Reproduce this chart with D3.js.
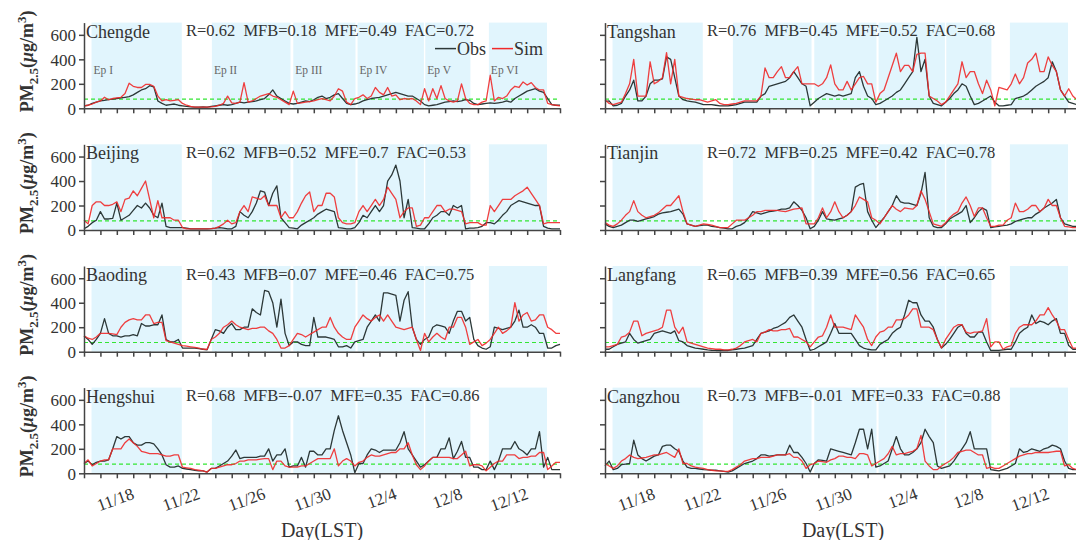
<!DOCTYPE html>
<html>
<head>
<meta charset="utf-8">
<script src="https://cdn.jsdelivr.net/npm/d3@7"></script>
<style>
  body { margin: 0; background: #fff; }
  svg text { font-family: "Liberation Serif", "Times New Roman", serif; }
</style>
</head>
<body>
<svg id="chart" width="1076" height="540"></svg>
<script>
// 6-hourly PM2.5 (ug/m3) starting 2018-11-15 00:00 LST
const stations = ["Chengde", "Tangshan", "Beijing", "Tianjin", "Baoding", "Langfang", "Hengshui", "Cangzhou"];
const statR   = ["0.62", "0.76", "0.62", "0.72", "0.43", "0.65", "0.68", "0.73"];
const statMFB = ["0.18", "0.45", "0.52", "0.25", "0.07", "0.39", "-0.07", "-0.01"];
const statMFE = ["0.49", "0.52", "0.7", "0.42", "0.46", "0.56", "0.35", "0.33"];
const statFAC = ["0.72", "0.68", "0.53", "0.78", "0.75", "0.65", "0.86", "0.88"];

const chengdeObs = [20,25,40,50, 60,65,70,75, 80,85,90,95, 110,130,150,160, 185,175,60,40, 25,30,35,25, 20,15,12,10, 10,12,10,15, 20,25,30,25, 30,40,50,45, 50,55,60,70, 80,110,150,100, 80,60,40,35, 40,50,60,55, 70,90,100,80, 90,110,120,80, 40,30,35,45, 60,70,80,85, 90,100,110,120, 130,120,110,100, 100,80,60,30, 20,25,30,40, 50,55,60,55, 60,70,65,40, 30,35,40,45, 40,45,50,60, 50,80,100,120, 140,150,160,140, 130,80,30,25, 25];
const chengdeSim = [20,25,35,50, 60,90,70,80, 85,90,120,205, 180,170,170,195, 195,180,100,60, 70,60,65,70, 40,25,15,10, 10,10,10,12, 15,25,40,100, 45,40,50,210, 50,60,80,100, 110,120,100,90, 70,50,30,140, 40,45,50,55, 60,70,80,70, 60,100,160,140, 50,30,80,90, 110,80,100,170, 130,110,170,100, 110,70,80,75, 80,60,30,160, 60,160,80,185, 80,60,50,60, 200,80,40,30, 30,50,60,270, 60,90,80,100, 150,180,170,215, 190,210,170,150, 150,40,30,25, 20];
const tangshanObs = [55,60,20,25, 40,100,150,230, 60,60,100,200, 230,230,240,420, 400,250,100,70, 60,55,50,40, 30,30,30,25, 20,20,20,25, 30,40,50,50, 50,50,100,120, 180,190,200,210, 220,250,300,250, 200,180,20,50, 80,100,120,110, 100,110,100,110, 120,250,300,180, 100,80,30,40, 60,80,100,130, 150,200,250,300, 580,300,400,100, 40,30,20,50, 80,120,150,200, 180,100,30,40, 60,80,100,50, 20,20,25,30, 80,90,100,120, 150,180,200,220, 250,380,300,150, 100,50,40,30, 30];
const tangshanSim = [70,40,30,40, 50,120,200,400, 100,100,100,380, 200,220,250,455, 200,400,100,90, 80,75,70,70, 60,50,60,70, 40,30,30,35, 40,50,60,60, 60,60,100,330, 250,250,300,340, 250,250,300,340, 200,200,200,200, 180,200,250,355, 200,150,150,220, 150,200,250,260, 200,200,50,120, 150,250,350,450, 300,350,350,300, 440,450,450,100, 80,60,30,50, 100,150,200,380, 250,300,300,200, 120,230,150,20, 170,160,150,200, 280,200,250,370, 400,450,300,300, 420,350,300,150, 100,160,100,70, 60];
const beijingObs = [10,30,60,80, 150,90,90,95, 220,80,100,120, 160,200,180,220, 180,120,100,220, 30,20,20,20, 20,15,10,10, 10,10,10,12, 15,20,15,10, 10,30,150,120, 100,150,220,320, 310,200,300,360, 100,60,20,15, 10,40,60,80, 100,130,150,170, 160,150,20,15, 10,10,20,60, 120,100,150,200, 150,200,400,450, 530,400,100,250, 20,15,10,10, 50,100,120,150, 150,120,200,180, 200,10,15,15, 20,30,60,60, 50,80,120,150, 200,220,240,230, 220,210,200,200, 30,15,10,10, 10];
const beijingSim = [80,50,200,230, 230,200,200,210, 230,150,250,260, 320,280,340,400, 250,100,240,100, 100,100,80,80, 20,10,10,10, 10,10,10,12, 15,30,50,80, 50,60,150,200, 150,270,260,250, 280,200,200,200, 100,150,100,100, 150,220,280,310, 150,200,200,300, 300,270,100,60, 50,50,60,150, 200,150,200,250, 200,250,350,300, 250,100,150,180, 180,30,40,100, 100,150,200,200, 150,170,170,160, 150,50,60,60, 60,40,40,200, 150,200,250,250, 250,280,300,320, 350,300,250,200, 50,60,60,60, 60];
const tianjinObs = [50,30,20,30, 40,60,80,80, 70,80,90,100, 110,130,140,145, 150,160,170,130, 50,40,30,35, 40,40,30,25, 20,15,10,10, 30,40,60,100, 150,140,130,140, 150,155,160,170, 170,180,230,200, 160,100,10,30, 80,150,90,85, 80,90,100,120, 150,350,370,380, 150,80,20,60, 100,150,200,280, 230,220,220,210, 200,300,470,100, 30,20,20,50, 90,110,130,150, 200,60,100,150, 180,160,20,25, 30,35,40,50, 70,80,90,100, 100,130,150,180, 200,220,250,100, 50,40,30,30, 30];
const tianjinSim = [60,40,30,50, 80,120,150,240, 150,120,100,110, 120,140,170,200, 200,240,280,150, 50,40,30,40, 50,45,40,30, 20,20,20,50, 80,80,80,100, 120,150,150,160, 160,160,160,155, 150,160,170,175, 180,50,50,50, 100,180,100,150, 230,150,100,120, 150,200,270,250, 230,100,80,50, 100,150,200,170, 150,180,175,170, 200,320,250,150, 50,40,30,60, 100,130,150,220, 270,200,110,180, 180,100,30,30, 40,40,80,100, 220,150,150,170, 200,200,150,180, 250,200,200,100, 30,25,20,20, 20];
const baodingObs = [130,100,60,100, 150,270,150,130, 130,120,130,130, 140,130,230,210, 210,220,220,300, 100,80,80,100, 30,30,30,30, 25,20,15,100, 180,170,150,200, 230,180,180,200, 200,350,320,300, 500,490,400,200, 430,150,50,80, 80,60,50,50, 280,120,120,120, 110,100,40,40, 50,30,80,90, 100,200,250,300, 250,480,480,470, 460,250,420,490, 200,100,60,100, 120,200,220,210, 200,150,250,330, 330,250,280,100, 50,30,20,40, 200,190,180,190, 200,250,340,200, 200,220,200,150, 150,30,30,50, 60];
const baodingSim = [130,110,100,120, 150,150,150,145, 140,200,240,260, 270,260,260,300, 300,230,240,240, 90,80,70,60, 50,45,40,35, 30,20,20,100, 120,150,200,220, 250,220,200,190, 180,190,190,200, 200,170,150,100, 30,30,50,100, 150,140,120,140, 160,180,200,200, 280,200,150,120, 100,100,200,250, 300,270,250,280, 300,250,300,250, 200,190,180,190, 200,100,10,150, 80,120,150,120, 100,200,200,280, 280,200,60,80, 100,50,70,100, 150,200,150,170, 200,400,250,300, 320,250,260,300, 300,200,180,150, 150];
const langfangObs = [20,20,40,60, 70,80,150,100, 70,80,90,100, 150,160,170,160, 150,170,90,80, 50,40,30,25, 20,15,12,10, 10,10,10,15, 20,25,30,40, 50,100,150,160, 170,190,200,220, 240,280,300,250, 200,100,10,20, 40,60,80,150, 230,150,150,150, 150,100,50,30, 20,15,15,60, 80,100,150,180, 200,300,420,400, 400,300,250,250, 200,100,30,60, 100,150,200,220, 150,120,120,160, 160,80,10,10, 10,15,20,20, 80,150,180,200, 300,230,250,240, 220,250,270,150, 150,50,20,20, 20];
const langfangSim = [40,40,50,60, 120,130,160,250, 250,130,150,160, 170,180,200,340, 340,200,150,200, 80,70,60,50, 40,30,25,20, 20,15,15,20, 30,50,80,90, 100,80,150,160, 180,170,170,180, 180,190,120,120, 100,80,40,80, 120,130,200,300, 200,200,200,190, 180,300,250,200, 100,50,120,160, 170,200,200,260, 260,270,300,350, 350,200,200,200, 180,100,30,100, 150,200,220,220, 160,150,160,160, 170,270,40,80, 80,20,40,50, 150,200,220,220, 220,250,300,300, 360,300,250,180, 180,100,30,30, 30];
const hengshuiObs = [80,100,70,90, 100,100,110,200, 300,280,300,300, 250,230,230,250, 250,240,200,150, 70,50,50,60, 40,35,30,25, 20,20,10,40, 40,60,80,100, 140,190,120,130, 130,130,130,140, 140,200,100,150, 150,200,50,60, 60,130,50,180, 180,150,150,200, 200,350,470,350, 250,150,5,80, 80,150,200,190, 170,190,190,190, 190,250,340,200, 150,100,50,70, 100,130,130,200, 200,290,120,180, 260,130,130,50, 50,30,30,100, 30,100,200,200, 200,260,200,180, 150,200,200,340, 50,130,30,30, 30];
const hengshuiSim = [80,110,60,80, 100,110,110,200, 200,200,250,280, 250,220,180,170, 160,160,160,150, 140,140,150,150, 50,45,40,30, 25,20,10,40, 40,50,60,70, 70,80,100,100, 110,110,110,115, 120,120,30,100, 100,60,50,50, 50,60,60,80, 100,120,120,120, 120,200,60,100, 120,100,60,90, 100,130,150,140, 140,150,160,170, 170,200,200,250, 150,70,30,60, 100,130,130,130, 130,130,120,120, 150,180,60,70, 70,60,20,50, 80,100,100,150, 150,150,120,130, 130,140,140,170, 170,30,60,90, 90];
const cangzhouObs = [60,100,30,40, 70,75,80,270, 150,120,100,120, 140,150,220,230, 230,200,180,100, 50,40,40,35, 30,28,25,25, 20,15,10,20, 40,60,80,90, 100,120,150,150, 140,145,150,150, 150,230,170,170, 130,80,10,80, 110,105,100,200, 190,180,170,160, 150,250,360,360, 200,360,50,60, 80,100,200,300, 200,150,150,170, 200,250,360,300, 250,60,40,50, 60,100,150,200, 250,340,200,200, 200,200,30,25, 20,30,40,60, 80,200,170,180, 200,190,180,200, 210,230,220,200, 100,40,30,30, 30];
const cangzhouSim = [80,60,40,60, 100,120,150,130, 120,125,130,140, 150,150,160,170, 150,130,200,80, 80,60,50,45, 40,30,25,20, 20,15,15,30, 50,70,100,110, 120,120,130,130, 130,140,150,150, 150,160,130,130, 100,40,70,80, 100,95,90,110, 120,140,140,130, 130,120,160,160, 150,60,80,100, 120,160,220,150, 160,160,170,180, 200,310,100,60, 30,30,60,80, 100,130,170,180, 190,190,170,150, 150,40,50,40, 40,60,80,100, 120,140,150,160, 160,170,170,170, 170,175,180,180, 60,70,40,30, 30];

const obsSeries = [chengdeObs, tangshanObs, beijingObs, tianjinObs, baodingObs, langfangObs, hengshuiObs, cangzhouObs];
const simSeries = [chengdeSim, tangshanSim, beijingSim, tianjinSim, baodingSim, langfangSim, hengshuiSim, cangzhouSim];

const epNames = ["Ep I", "Ep II", "Ep III", "Ep IV", "Ep V", "Ep VI"];
const epStart = ["2018-11-15 11:00", "2018-11-22 19:00", "2018-11-27 18:00", "2018-12-01 16:00", "2018-12-05 19:00", "2018-12-09 16:00"];
const epEnd   = ["2018-11-20 23:00", "2018-11-27 14:00", "2018-12-01 13:00", "2018-12-05 17:00", "2018-12-08 13:00", "2018-12-13 05:00"];

const tickLabels = ["11/18", "11/22", "11/26", "11/30", "12/4", "12/8", "12/12"];
const yTicks = [0, 200, 400, 600];
const limit = 75;

// ---- layout ----
const parseT = d3.timeParse("%Y-%m-%d %H:%M");
const parseDay = d3.timeParse("%Y/%m/%d");
const t0 = parseT("2018-11-15 00:00");
const t1 = parseT("2018-12-14 00:00");

const colX = [84, 605];
const plotW = 476;
const plotH = 85.7;
const rowBottom = [108.3, 230, 351.7, 473.3];

const obsColor = "#2c3838";
const simColor = "#f02a2a";
const axisColor = "#444";
const textColor = "#333";

const svg = d3.select("#chart");

stations.forEach((name, i) => {
    const col = i % 2, row = Math.floor(i / 2);
    const x0 = colX[col];
    const bottom = rowBottom[row];

    const x = d3.scaleTime().domain([t0, t1]).range([x0, x0 + plotW]);
    const y = d3.scaleLinear().domain([0, 700]).range([bottom, bottom - plotH]);

    const g = svg.append("g");

    // episodes
    g.selectAll("rect.ep")
        .data(epNames)
        .enter().append("rect")
        .attr("class", "ep")
        .attr("x", (d, k) => x(parseT(epStart[k])))
        .attr("width", (d, k) => x(parseT(epEnd[k])) - x(parseT(epStart[k])))
        .attr("y", y(700))
        .attr("height", y(0) - y(700))
        .attr("fill", "#e1f5fd");

    // 75 ug/m3 line
    g.append("line")
        .attr("x1", x(t0)).attr("x2", x(t1))
        .attr("y1", y(limit)).attr("y2", y(limit))
        .attr("stroke", "#33e633")
        .attr("stroke-width", 1.2)
        .attr("stroke-dasharray", "4,3");

    const line = d3.line()
        .x((d, k) => x(d3.timeHour.offset(t0, k * 6)))
        .y(d => y(d));

    g.append("path")
        .attr("d", line(obsSeries[i]))
        .attr("fill", "none")
        .attr("stroke", obsColor)
        .attr("stroke-width", 1.3)
        .attr("stroke-linejoin", "round");

    g.append("path")
        .attr("d", line(simSeries[i]))
        .attr("fill", "none")
        .attr("stroke", simColor)
        .attr("stroke-opacity", 0.9)
        .attr("stroke-width", 1.3)
        .attr("stroke-linejoin", "round");

    // axes
    const yAxis = d3.axisLeft(y).tickValues(yTicks).tickSize(5).tickSizeOuter(0).tickPadding(3);
    if (col === 1) yAxis.tickFormat("");
    const ya = g.append("g").attr("transform", `translate(${x0},0)`).call(yAxis);
    ya.attr("font-family", null).attr("font-size", 17);
    ya.selectAll("text").attr("fill", textColor).attr("dy", "0.34em");

    const xAxis = d3.axisBottom(x).ticks(d3.timeDay.every(1)).tickSize(5).tickSizeOuter(0).tickFormat("");
    g.append("g").attr("transform", `translate(0,${bottom})`).call(xAxis);

    g.selectAll(".domain, .tick line")
        .attr("stroke", axisColor)
        .attr("stroke-width", 1.5);

    // station name and statistics
    const top = bottom - plotH;
    g.append("text")
        .attr("x", x0 + 2).attr("y", top + 15)
        .attr("font-family", "'Liberation Sans', Arial, sans-serif")
        .attr("font-size", 18)
        .attr("fill", textColor)
        .text(name);

    g.append("text")
        .attr("x", x0 + 102).attr("y", top + 13.5)
        .attr("font-size", 16.5)
        .attr("fill", textColor)
        .style("white-space", "pre")
        .text(`R=${statR[i]}  MFB=${statMFB[i]}  MFE=${statMFE[i]}  FAC=${statFAC[i]}`);

    if (i === 0) {
        // episode labels
        g.selectAll("text.eplab")
            .data(epNames)
            .enter().append("text")
            .attr("class", "eplab")
            .attr("x", (d, k) => x(parseT(epStart[k])) + 2)
            .attr("y", top + 51)
            .attr("font-size", 11.5)
            .attr("fill", "#666")
            .text(d => d);

        // legend
        const leg = [["Obs", obsColor, 351], ["Sim", simColor, 408]];
        leg.forEach(([lab, c, off]) => {
            g.append("line")
                .attr("x1", x0 + off).attr("x2", x0 + off + 21)
                .attr("y1", top + 26).attr("y2", top + 26)
                .attr("stroke", c).attr("stroke-width", 1.5);
            g.append("text")
                .attr("x", x0 + off + 22).attr("y", top + 32)
                .attr("font-size", 18)
                .attr("fill", textColor)
                .text(lab);
        });
    }

    if (col === 0) {
        const yl = g.append("text")
            .attr("transform", `translate(33,${top + plotH / 2 - 4}) rotate(-90)`)
            .attr("text-anchor", "middle")
            .attr("font-weight", "bold")
            .attr("font-size", 18)
            .attr("fill", textColor);
        yl.append("tspan").text("PM");
        yl.append("tspan").attr("font-size", 13).attr("dy", 5).text("2.5");
        yl.append("tspan").attr("dy", -5).text("(");
        yl.append("tspan").attr("font-style", "italic").text("\u03bc");
        yl.append("tspan").text("g/m");
        yl.append("tspan").attr("font-size", 13).attr("dy", -7).text("3");
        yl.append("tspan").attr("dy", 7).text(")");
    }

    if (row === 3) {
        g.selectAll("text.xlab")
            .data(tickLabels)
            .enter().append("text")
            .attr("class", "xlab")
            .attr("text-anchor", "end")
            .attr("font-size", 17)
            .attr("fill", textColor)
            .attr("transform", d => `translate(${x(parseDay("2018/" + d)) + 2},${bottom + 25}) rotate(-20)`)
            .text(d => d);

        g.append("text")
            .attr("x", x0 + plotW / 2).attr("y", 537)
            .attr("text-anchor", "middle")
            .attr("font-size", 20)
            .attr("fill", textColor)
            .text("Day(LST)");
    }
});
</script>
</body>
</html>
